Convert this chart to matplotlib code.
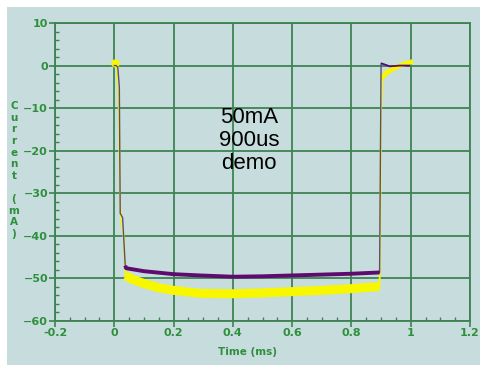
import matplotlib.pyplot as plt
from matplotlib.ticker import MultipleLocator

# purple trace (ms, mA)
purple_t = [0.0, 0.007, 0.012, 0.017, 0.020, 0.028, 0.037, 0.040, 0.10, 0.20, 0.29, 0.40,
            0.50, 0.60, 0.70, 0.80, 0.895, 0.900, 0.902, 0.93, 0.96, 0.995]
purple_i = [0.0, 0.0, -0.5, -5.0, -34.7, -35.7, -47.0, -47.6, -48.3, -49.0, -49.3, -49.6,
            -49.5, -49.3, -49.1, -48.9, -48.6, 0.4, 0.5, -0.2, 0.0, 0.0]

# yellow trace
yellow_t = [0.004, 0.008, 0.014, 0.020, 0.027, 0.033, 0.038, 0.06, 0.10, 0.15, 0.20, 0.29,
            0.40, 0.50, 0.60, 0.70, 0.80, 0.895, 0.898, 0.900, 0.904, 0.92, 0.94, 0.96,
            0.98, 1.0]
yellow_i = [0.5, 0.0, -5.0, -33.0, -38.0, -41.0, -49.3, -50.2, -51.2, -52.2, -52.8, -53.5,
            -53.6, -53.4, -53.1, -52.8, -52.4, -51.9, -30.0, -10.5, -2.7, -1.6, -0.8, -0.1,
            0.4, 0.8]

XTICKS = [-0.2, 0, 0.2, 0.4, 0.6, 0.8, 1, 1.2]
XTICK_LABELS = ['-0.2', '0', '0.2', '0.4', '0.6', '0.8', '1', '1.2']
YTICKS = [10, 0, -10, -20, -30, -40, -50, -60]

BG = '#c7dcdc'
GRID = '#3d8352'
LABEL = '#2e8f3c'
PURPLE = '#5f0a6e'
YELLOW = '#f7f700'


def main():
    fig = plt.figure(figsize=(4.81, 3.65), dpi=100)
    fig.patch.set_facecolor('white')
    fig.patches.append(plt.Rectangle((7 / 481, 0), 1, 1 - 7 / 365, transform=fig.transFigure,
                                     facecolor=BG, edgecolor='none', zorder=-10))
    ax = fig.add_axes([55 / 481, 44 / 365, 415 / 481, 298 / 365])
    ax.set_facecolor(BG)

    # thin transitions, thick plateaus
    ax.plot(yellow_t, yellow_i, color=YELLOW, lw=1.4, zorder=2)
    plateau_y = [(t, i) for t, i in zip(yellow_t, yellow_i) if 0.037 <= t <= 0.896]
    ax.plot([p[0] for p in plateau_y], [p[1] for p in plateau_y], color=YELLOW, lw=6.5,
            solid_capstyle='butt', zorder=2)
    tail_y = [(t, i) for t, i in zip(yellow_t, yellow_i) if t >= 0.904]
    ax.plot([p[0] for p in tail_y], [p[1] for p in tail_y], color=YELLOW, lw=3.5, zorder=2)
    ax.plot(yellow_t[:1], yellow_i[:1], 'o', color=YELLOW, ms=5, zorder=2)

    ax.plot(purple_t, purple_i, color='#5a4a88', lw=1.0, zorder=3)
    plateau_p = [(t, i) for t, i in zip(purple_t, purple_i) if 0.037 <= t <= 0.896]
    ax.plot([p[0] for p in plateau_p], [p[1] for p in plateau_p], color=PURPLE, lw=2.8,
            solid_capstyle='butt', zorder=3)
    tail_p = [(t, i) for t, i in zip(purple_t, purple_i) if t >= 0.902]
    ax.plot([p[0] for p in tail_p], [p[1] for p in tail_p], color=PURPLE, lw=1.2, zorder=3)

    ax.set_xlim(-0.2, 1.2)
    ax.set_ylim(-60, 10)
    ax.set_xticks(XTICKS)
    ax.set_xticklabels(XTICK_LABELS)
    ax.set_yticks(YTICKS)
    ax.xaxis.set_minor_locator(MultipleLocator(0.05))
    ax.yaxis.set_minor_locator(MultipleLocator(2))
    ax.grid(True, which='major', color=GRID, lw=1.3, zorder=1)
    ax.set_axisbelow(True)
    for s in ax.spines.values():
        s.set_color(GRID)
        s.set_linewidth(1.3)
    ax.tick_params(which='major', direction='out', length=4, width=1.2, color=GRID,
                   labelcolor=LABEL, labelsize=8, pad=1)
    ax.tick_params(which='minor', direction='in', length=3, width=1, color=GRID)
    for lab in ax.get_xticklabels() + ax.get_yticklabels():
        lab.set_fontweight('bold')

    ax.text(0.455, -17.6, '50mA\n900us\ndemo', ha='center', va='center', fontsize=16,
            family='Liberation Sans', linespacing=1.15, color='black')

    fig.text(248 / 481, 1 - 352 / 365, 'Time (ms)', ha='center', va='center', fontsize=7.5,
             fontweight='bold', color=LABEL)
    ylabel = '\n'.join('Current (mA)')
    fig.text(14 / 481, 1 - 170 / 365, ylabel, ha='center', va='center', fontsize=7.5,
             fontweight='bold', color=LABEL, linespacing=1.2)

    fig.savefig('out.png', dpi=100)


main()
